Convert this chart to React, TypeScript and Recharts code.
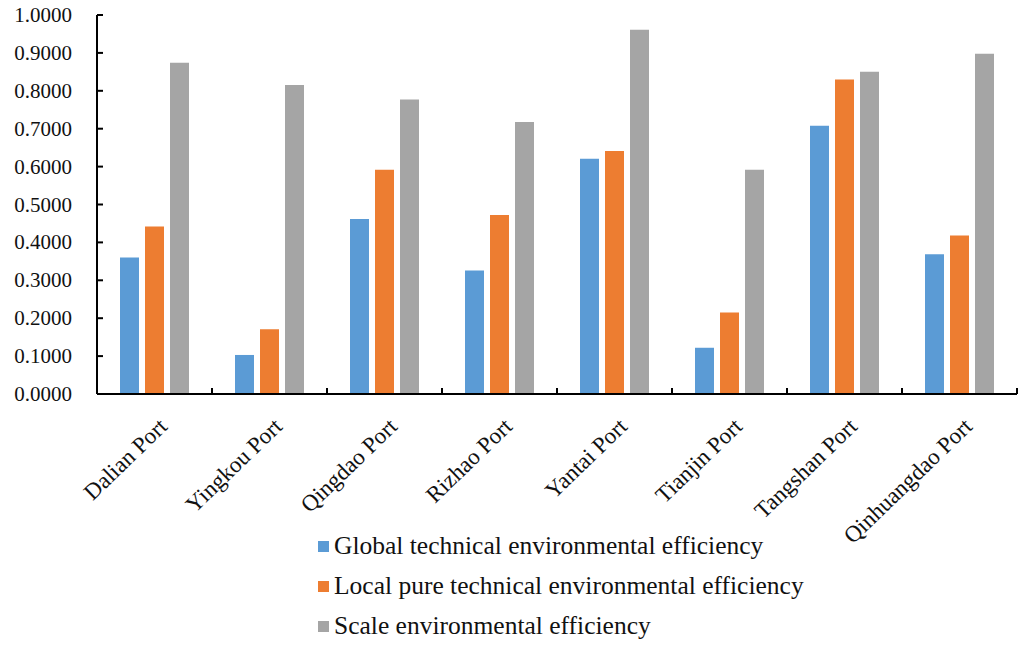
import { Bar, BarChart, Legend, XAxis, YAxis } from "recharts";

const ports = [
  "Dalian Port",
  "Yingkou Port",
  "Qingdao Port",
  "Rizhao Port",
  "Yantai Port",
  "Tianjin Port",
  "Tangshan Port",
  "Qinhuangdao Port",
];
const globalEff = [0.36, 0.103, 0.462, 0.326, 0.621, 0.122, 0.708, 0.369];
const localEff = [0.442, 0.171, 0.592, 0.472, 0.641, 0.215, 0.83, 0.418];
const scaleEff = [0.874, 0.815, 0.777, 0.718, 0.961, 0.592, 0.85, 0.898];
const yTicks = [0, 0.1, 0.2, 0.3, 0.4, 0.5, 0.6, 0.7, 0.8, 0.9, 1];

const data = ports.map((name, i) => ({
  name,
  global: globalEff[i],
  local: localEff[i],
  scale: scaleEff[i],
}));

const W = 1018;
const H = 646;
const MARGIN = { top: 15, right: 9, left: 0, bottom: 0 };
const Y_WIDTH = 89;
const BAND = (W - MARGIN.left - MARGIN.right - Y_WIDTH) / ports.length;
const FONT = "Liberation Serif, Times New Roman, serif";

function XTick({ x, y, payload }: any) {
  const tx = x + 14;
  const ty = y + 34;
  return (
    <g>
      <line x1={x + BAND / 2} x2={x + BAND / 2} y1={y} y2={y - 6} stroke="#000" strokeWidth={2} />
      <text
        x={tx}
        y={ty}
        transform={`rotate(-44 ${tx} ${ty})`}
        textAnchor="end"
        fontFamily={FONT}
        fontSize={23}
        fill="#111"
      >
        {payload.value}
      </text>
    </g>
  );
}

function YTick({ x, y, payload }: any) {
  return (
    <g>
      <line x1={x} x2={x + 6} y1={y} y2={y} stroke="#000" strokeWidth={2} />
      <text x={x - 25} y={y + 7} textAnchor="end" fontFamily={FONT} fontSize={21} fill="#111">
        {Number(payload.value).toFixed(4)}
      </text>
    </g>
  );
}

function LegendBox({ payload }: any) {
  return (
    <div style={{ height: 120 }}>
      {(payload || []).map((item: any) => (
        <div key={item.value} style={{ display: "flex", alignItems: "center", height: 40, whiteSpace: "nowrap" }}>
          <span style={{ width: 11, height: 11, background: item.color, marginRight: 5, display: "inline-block" }} />
          <span style={{ fontFamily: FONT, fontSize: 25.5, color: "#111" }}>{item.value}</span>
        </div>
      ))}
    </div>
  );
}

export default function App() {
  return (
    <div style={{ width: W, height: H, marginTop: -8, background: "#fff" }}>
      <BarChart width={W} height={H} data={data} margin={MARGIN} barSize={19} barGap={6}>
        <XAxis
          dataKey="name"
          interval={0}
          height={132}
          tickSize={0}
          tickMargin={0}
          tick={<XTick />}
          axisLine={{ stroke: "#000", strokeWidth: 2 }}
          tickLine={false}
        />
        <YAxis
          domain={[0, 1]}
          ticks={yTicks}
          width={Y_WIDTH}
          tickSize={0}
          tickMargin={0}
          tick={<YTick />}
          axisLine={{ stroke: "#000", strokeWidth: 2 }}
          tickLine={false}
          interval={0}
        />
        <Legend
          layout="vertical"
          align="center"
          verticalAlign="bottom"
          content={<LegendBox />}
          wrapperStyle={{ left: 310, width: "auto" }}
        />
        <Bar dataKey="global" name="Global technical environmental efficiency" fill="#5B9BD5" isAnimationActive={false} />
        <Bar dataKey="local" name="Local pure technical environmental efficiency" fill="#ED7D31" isAnimationActive={false} />
        <Bar dataKey="scale" name="Scale environmental efficiency" fill="#A5A5A5" isAnimationActive={false} />
      </BarChart>
    </div>
  );
}
